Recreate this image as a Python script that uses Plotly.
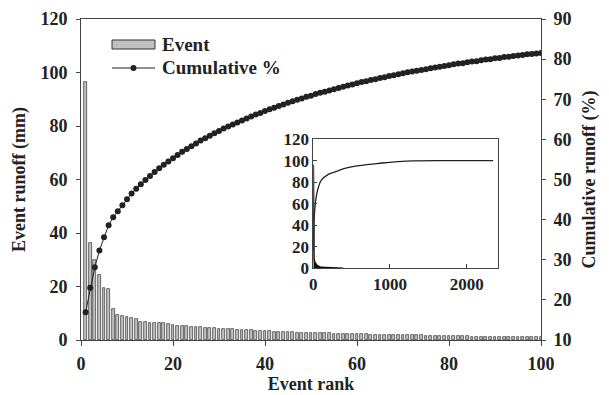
import plotly.graph_objects as go

ranks = list(range(1, 101))
event_runoff = [96.5, 36.4, 29.9, 24.3, 19.3, 18.9, 11.6, 9.3, 9.0, 8.7,
                8.1, 7.7, 6.9, 6.6, 6.5, 6.5, 6.5, 6.4, 6.0, 5.7,
                5.4, 5.3, 5.1, 4.9, 4.8, 4.7, 4.6, 4.5, 4.4, 4.3,
                4.2, 4.1, 4.0, 3.9, 3.8, 3.7, 3.6, 3.5, 3.4, 3.3,
                3.2, 3.1, 3.0, 3.0, 2.9, 2.9, 2.8, 2.8, 2.7, 2.7,
                2.6, 2.6, 2.5, 2.5, 2.4, 2.4, 2.3, 2.3, 2.2, 2.2,
                2.1, 2.1, 2.0, 2.0, 2.0, 1.9, 1.9, 1.9, 1.8, 1.8,
                1.8, 1.7, 1.7, 1.7, 1.6, 1.6, 1.6, 1.5, 1.5, 1.5,
                1.4, 1.4, 1.4, 1.4, 1.3, 1.3, 1.3, 1.3, 1.2, 1.2,
                1.2, 1.2, 1.1, 1.1, 1.1, 1.1, 1.0, 1.0, 1.0, 1.0]
cumulative_pct = [16.9, 23.0, 28.1, 32.3, 35.6, 38.6, 40.6, 42.1, 43.6, 45.1,
                  46.5, 47.7, 48.8, 49.9, 50.9, 51.9, 52.8, 53.7, 54.5, 55.3,
                  56.1, 56.9, 57.6, 58.3, 59.0, 59.7, 60.3, 60.9, 61.5, 62.1,
                  62.7, 63.2, 63.7, 64.2, 64.7, 65.2, 65.7, 66.2, 66.6, 67.1,
                  67.5, 67.9, 68.3, 68.7, 69.1, 69.5, 69.9, 70.2, 70.6, 70.9,
                  71.3, 71.6, 71.9, 72.2, 72.5, 72.8, 73.1, 73.4, 73.7, 74.0,
                  74.3, 74.5, 74.8, 75.0, 75.3, 75.5, 75.8, 76.0, 76.2, 76.5,
                  76.7, 76.9, 77.1, 77.3, 77.5, 77.7, 77.9, 78.1, 78.3, 78.5,
                  78.7, 78.9, 79.0, 79.2, 79.4, 79.5, 79.7, 79.9, 80.0, 80.2,
                  80.3, 80.5, 80.6, 80.8, 80.9, 81.0, 81.2, 81.3, 81.4, 81.5]

# inset: full record of events
inset_rank = [1, 10, 30, 50, 100, 200, 300, 400, 500, 700, 900, 1100, 1300, 1600, 2000, 2346]
inset_cum = [16.9, 45.1, 62.1, 70.9, 81.5, 87.5, 90.0, 92.5, 94.2, 96.2, 97.8, 99.0, 99.8, 100.0, 100.0, 100.0]
inset_ev_rank = [1, 2, 5, 10, 20, 50, 100, 200, 300, 390]
inset_ev = [96.5, 36.4, 19.3, 8.7, 5.7, 2.7, 1.0, 0.6, 0.4, 0.2]

legend_labels = ["Event", "Cumulative %"]

FONT = "Liberation Serif"
AX = "#444444"
TXT = "#222222"

fig = go.Figure()
fig.add_trace(go.Bar(x=ranks, y=event_runoff, name=legend_labels[0], width=0.62,
                     marker=dict(color="#c0c0c0", line=dict(color="#333333", width=0.7)),
                     showlegend=False, xaxis="x", yaxis="y"))
fig.add_trace(go.Scatter(x=ranks, y=cumulative_pct, name=legend_labels[1], mode="lines+markers",
                         line=dict(color="#222222", width=1),
                         marker=dict(color="#222222", size=6),
                         showlegend=False, xaxis="x", yaxis="y2"))
fig.add_trace(go.Scatter(x=inset_ev_rank, y=inset_ev, mode="lines", fill="tozeroy",
                         line=dict(color="#111111", width=1.5), fillcolor="#111111",
                         showlegend=False, xaxis="x3", yaxis="y3"))
fig.add_trace(go.Scatter(x=inset_rank, y=inset_cum, mode="lines",
                         line=dict(color="#222222", width=1.3, shape="spline", smoothing=0.6),
                         showlegend=False, xaxis="x3", yaxis="y3"))

tickfont = dict(family=FONT, size=18, color=TXT, weight="bold")
titlefont = dict(family=FONT, size=18, color=TXT, weight="bold")
insetfont = dict(family=FONT, size=17, color=TXT, weight="bold")

# manual legend (paper coordinates of the main plot area)
fig.add_shape(type="rect", xref="paper", yref="paper", x0=0.0674, x1=0.1609, y0=0.9065, y1=0.9346,
              fillcolor="#c0c0c0", line=dict(color="#333333", width=1))
fig.add_shape(type="line", xref="paper", yref="paper", x0=0.0674, x1=0.1609, y0=0.8474, y1=0.8474,
              line=dict(color="#222222", width=1))
fig.add_shape(type="circle", xref="paper", yref="paper", x0=0.1076, x1=0.1206, y0=0.8380, y1=0.8568,
              fillcolor="#222222", line=dict(color="#222222", width=0))
for lbl, yy in zip(legend_labels, [0.9206, 0.8474]):
    fig.add_annotation(text=lbl, xref="paper", yref="paper", x=0.172, y=yy,
                       xanchor="left", yanchor="middle", showarrow=False,
                       font=dict(family=FONT, size=19, color=TXT, weight="bold"))

fig.update_layout(
    width=601, height=387,
    margin=dict(l=73, r=68, t=11, b=55, autoexpand=False),
    paper_bgcolor="white", plot_bgcolor="white",
    bargap=0, showlegend=False,
    font=dict(family=FONT, color=TXT),
    xaxis=dict(domain=[0, 1], range=[0, 100], tickvals=[0, 20, 40, 60, 80, 100],
               showgrid=False, zeroline=False, showline=True, linecolor=AX, linewidth=1,
               mirror=True, ticks="outside", ticklen=5, tickcolor=AX, tickfont=tickfont,
               ticklabelstandoff=2, automargin=False,
               title=dict(text="Event rank", font=titlefont, standoff=3), anchor="y"),
    yaxis=dict(range=[0, 120], tickvals=[0, 20, 40, 60, 80, 100, 120],
               showgrid=False, zeroline=False, showline=True, linecolor=AX, linewidth=1,
               ticks="outside", ticklen=4, tickcolor=AX, tickfont=tickfont,
               ticklabelstandoff=5, automargin=False,
               title=dict(text="Event runoff (mm)", font=titlefont, standoff=10), anchor="x"),
    yaxis2=dict(range=[10, 90], tickvals=[10, 20, 30, 40, 50, 60, 70, 80, 90],
                overlaying="y", side="right", anchor="x",
                showgrid=False, zeroline=False, showline=True, linecolor=AX, linewidth=1,
                ticks="outside", ticklen=4, tickcolor=AX, tickfont=tickfont,
                ticklabelstandoff=4, automargin=False,
                title=dict(text="Cumulative runoff (%)", font=titlefont, standoff=11)),
    xaxis3=dict(domain=[0.505, 0.907], range=[0, 2412], tickvals=[0, 1000, 2000],
                showgrid=False, zeroline=False, showline=True, linecolor=AX, linewidth=1,
                mirror=True, ticks="inside", ticklen=4, tickcolor=AX, tickfont=insetfont,
                automargin=False, anchor="y3"),
    yaxis3=dict(domain=[0.223, 0.626], range=[0, 120], tickvals=[0, 20, 40, 60, 80, 100, 120],
                showgrid=False, zeroline=False, showline=True, linecolor=AX, linewidth=1,
                mirror=True, ticks="inside", ticklen=4, tickcolor=AX, tickfont=insetfont,
                automargin=False, anchor="x3"),
)

fig.write_html("out.html")
